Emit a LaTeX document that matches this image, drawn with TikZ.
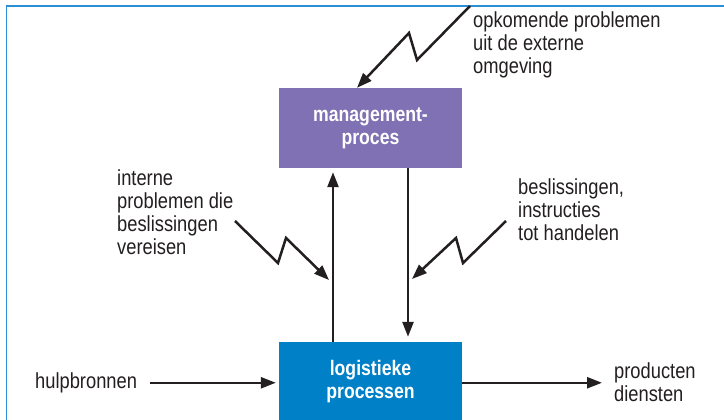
\documentclass[tikz,border=0pt]{standalone}
\usepackage{fontspec}
\setmainfont{Liberation Sans}[FakeStretch=0.84]
\usetikzlibrary{arrows.meta}
\definecolor{ink}{HTML}{231F20}
\definecolor{framecol}{HTML}{2A8FD4}
\definecolor{mgmtfill}{HTML}{8070B4}
\definecolor{logfill}{HTML}{0080C6}
\begin{document}
\begin{tikzpicture}[x=1pt,y=-1pt,
  txtlabel/.style={anchor=north west, inner sep=0pt, align=left, text=ink,
    font=\fontsize{21.8}{23.2}\selectfont},
  procbox/.style={minimum width=183pt, minimum height=80pt, inner sep=0pt,
    text=white, align=center, font=\fontsize{21}{23}\bfseries\selectfont},
  flow/.style={draw=ink, line width=2.5pt, -{Triangle[length=15pt,width=11pt]}},
  ]
\useasboundingbox (0,0) rectangle (724,420);
\fill[white] (0,0) rectangle (724,420);

% frame edges
\draw[framecol, line width=1.8pt] (724,6) -- (6.5,6) -- (6.5,420);

% process blocks
\node[procbox, fill=mgmtfill] (mgmt) at (370.5,128) {management-\\proces};
\node[procbox, fill=logfill] (logi) at (370.5,382) {logistieke\\processen};

% labels
\node[txtlabel] (ext) at (473,11.4) {opkomende problemen\\uit de externe\\omgeving};
\node[txtlabel] (intern) at (117,169.4) {interne\\problemen die\\beslissingen\\vereisen};
\node[txtlabel] (besl) at (518,178.4) {beslissingen,\\instructies\\tot handelen};
\node[txtlabel] (hulp) at (35,372.4) {hulpbronnen};
\node[txtlabel] (prod) at (614,362.4) {producten\\diensten};

% input and output
\draw[flow, shorten >=3pt] ([xshift=13pt]hulp.east) -- (hulp.east -| logi.west);
\coordinate (outend) at (602,382);
\draw[flow] (logi.east |- hulp.east) -- (outend |- hulp.east);

% feedback and control
\coordinate (upx) at (333,0);
\coordinate (dnx) at (408,0);
\draw[flow, shorten >=4pt] (logi.north -| upx) -- (mgmt.south -| upx);
\draw[flow, shorten >=5pt] (mgmt.south -| dnx) -- (logi.north -| dnx);

% lightning arrows
\coordinate (t0) at (470,6);
\coordinate (t1) at (417,60);
\coordinate (t2) at (409,33);
\coordinate (tx) at (357,0);
\draw[flow, line join=miter] (t0) -- (t1) -- (t2) -- (mgmt.north -| tx);

\coordinate (l0) at (235,221);
\coordinate (l1) at (278,263);
\coordinate (l2) at (286,238);
\coordinate (l3) at (329,280);
\draw[flow, line join=miter] (l0) -- (l1) -- (l2) -- (l3);

\coordinate (r0) at (506,221);
\coordinate (r1) at (463,263);
\coordinate (r2) at (456,238);
\coordinate (r3) at (412,279);
\draw[flow, line join=miter] (r0) -- (r1) -- (r2) -- (r3);
\end{tikzpicture}
\end{document}
